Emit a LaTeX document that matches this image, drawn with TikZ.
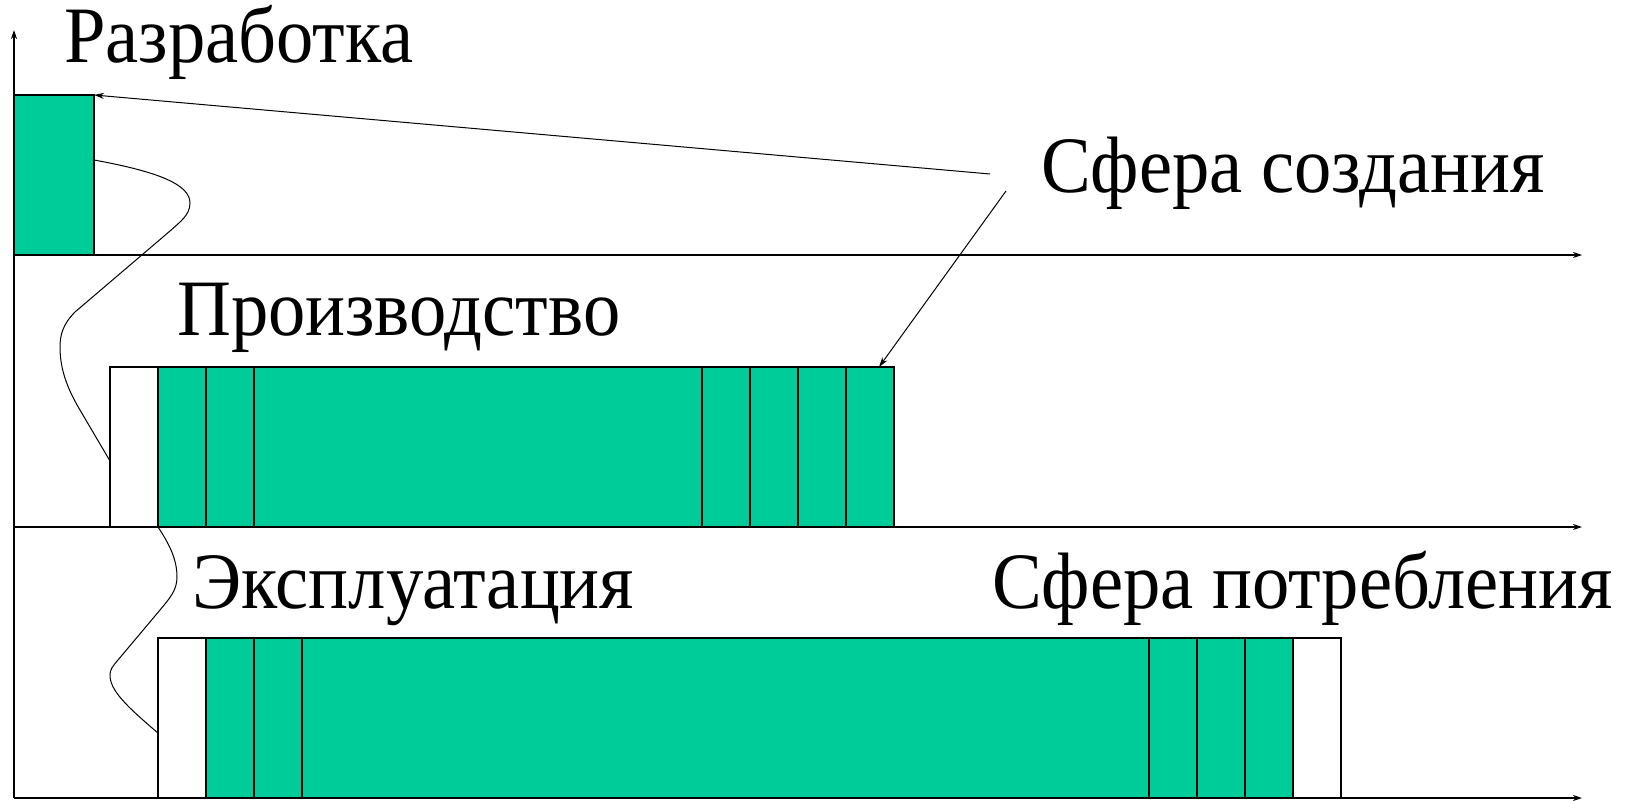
\documentclass[tikz,border=0pt]{standalone}
\usepackage{fontspec}
\setmainfont{Liberation Serif}[FakeStretch=0.932]
\usetikzlibrary{arrows.meta}
\definecolor{cellgreen}{RGB}{0,204,153}
\begin{document}
\begin{tikzpicture}[x=1pt,y=-1pt,
  axis/.style={line width=1.3pt,-{Stealth[length=9pt,width=6pt]}},
  gcell/.style={draw, line width=1.3pt, fill=cellgreen, inner sep=0pt, outer sep=0pt, anchor=north west, minimum height=160pt},
  wcell/.style={gcell, fill=white},
  lbl/.style={inner sep=0pt, anchor=base west, font=\fontsize{80}{96}\selectfont},
  curve/.style={line width=1pt},
  pointer/.style={line width=1pt,-{Stealth[length=10pt,width=6pt]}}
]
\useasboundingbox (0,0) rectangle (1629,800);
% axes
\coordinate (o) at (14,798);
\coordinate (ytop) at (14,30);
\coordinate (a1l) at (14,255);
\coordinate (a1r) at (1582,255);
\coordinate (a2l) at (14,527);
\coordinate (a2r) at (1582,527);
\coordinate (a3r) at (1582,798);
% row 1
\node[gcell, minimum width=80pt] (dev) at (14,95) {};
% row 2
\node[wcell, minimum width=48pt] (p0) at (110,367) {};
\node[gcell, minimum width=48pt] (p1) at (158,367) {};
\node[gcell, minimum width=48pt] (p2) at (206,367) {};
\node[gcell, minimum width=448pt] (p3) at (254,367) {};
\node[gcell, minimum width=48pt] (p4) at (702,367) {};
\node[gcell, minimum width=48pt] (p5) at (750,367) {};
\node[gcell, minimum width=48pt] (p6) at (798,367) {};
\node[gcell, minimum width=48pt] (p7) at (846,367) {};
% row 3
\node[wcell, minimum width=48pt] (e0) at (158,638) {};
\node[gcell, minimum width=48pt] (e1) at (206,638) {};
\node[gcell, minimum width=48pt] (e2) at (254,638) {};
\node[gcell, minimum width=847pt] (e3) at (302,638) {};
\node[gcell, minimum width=48pt] (e4) at (1149,638) {};
\node[gcell, minimum width=48pt] (e5) at (1197,638) {};
\node[gcell, minimum width=48pt] (e6) at (1245,638) {};
\node[wcell, minimum width=48pt] (e7) at (1293,638) {};
% axes drawn
\draw[axis] (o) -- (ytop);
\draw[axis] (a1l) -- (a1r);
\draw[axis] (a2l) -- (a2r);
\draw[axis] (o) -- (a3r);
% labels
\node[lbl] (tdev) at (64,63) {Разработка};
\node[lbl] (tsc) at (1041,192) {Сфера создания};
\node[lbl] (tprod) at (177,335) {Производство};
\node[lbl] (texp) at (192,608) {Эксплуатация};
\node[lbl] (tsp) at (992,608) {Сфера потребления};
% pointers
\coordinate (s1) at (990,174);
\coordinate (s2) at (1006,191);
\coordinate (s2e) at (879,367);
\draw[pointer] (s1) -- (dev.north east);
\draw[pointer] (s2) -- (s2e);
% curves
\coordinate (c1a) at (94,160);
\coordinate (c1b) at (110,461);
\coordinate (c2a) at (158,527);
\coordinate (c2b) at (158,733);
\draw[curve] (c1a) .. controls (160,172) and (190,185) .. (190,203)
  .. controls (190,215) and (180,222) .. (170,231)
  -- (75,312)
  .. controls (63,324) and (60,335) .. (60,347)
  .. controls (60,370) and (68,390) .. (80,410)
  -- (c1b);
\draw[curve] (c2a) .. controls (170,545) and (177,560) .. (177,577)
  .. controls (177,590) and (170,598) .. (160,610)
  -- (118,660)
  .. controls (112,667) and (110,670) .. (110,675)
  .. controls (110,690) and (125,705) .. (c2b);
\end{tikzpicture}
\end{document}
